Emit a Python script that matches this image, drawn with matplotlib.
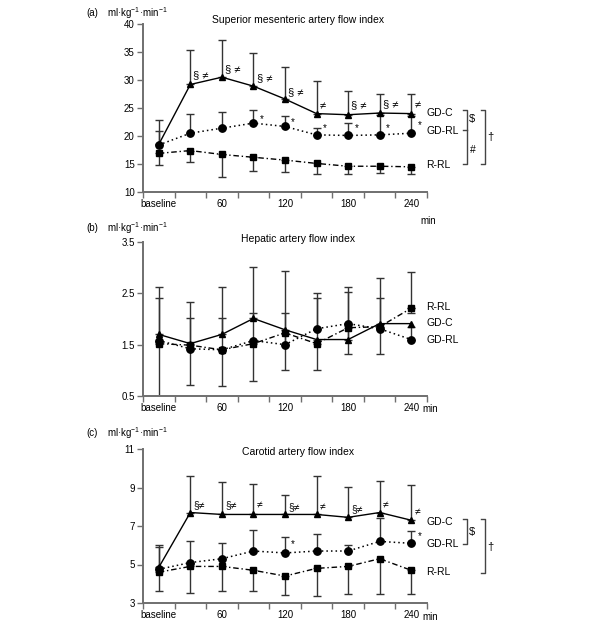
import matplotlib
matplotlib.use("Agg")
import matplotlib.pyplot as plt
import numpy as np

plt.rcParams['font.family'] = ['Liberation Sans', 'DejaVu Sans']
plt.rcParams['font.size'] = 7
plt.rcParams['mathtext.fontset'] = 'custom'
plt.rcParams['mathtext.rm'] = 'Liberation Sans'

# ---------------- data ----------------
time_labels = ["baseline", "30", "60", "90", "120", "150", "180", "210", "240"]
series_names = ["GD-C", "GD-RL", "R-RL"]

# (a) Superior mesenteric artery flow index
a_gdc = [18.5, 29.2, 30.5, 28.9, 26.6, 24.0, 23.8, 24.1, 24.0]
a_gdc_hi = [22.9, 35.4, 37.2, 34.9, 32.4, 29.8, 28.0, 27.5, 27.5]
a_gdrl = [18.4, 20.5, 21.4, 22.3, 21.7, 20.2, 20.1, 20.2, 20.5]
a_gdrl_hi = [20.9, 23.9, 24.2, 24.6, 23.5, 21.5, 22.3, 23.8, 23.6]
a_rrl = [16.9, 17.4, 16.7, 16.2, 15.7, 15.1, 14.6, 14.6, 14.5]
a_rrl_lo = [14.8, 15.3, 12.7, 13.8, 13.6, 13.2, 13.2, 13.45, 13.2]

# (b) Hepatic artery flow index
b_gdc = [1.70, 1.52, 1.70, 2.01, 1.79, 1.60, 1.60, 1.91, 1.91]
b_gdc_hi = [2.62, 2.33, 2.62, 3.01, 2.93, 2.51, 2.62, 2.80, None]
b_gdrl = [1.58, 1.42, 1.40, 1.58, 1.50, 1.81, 1.91, 1.81, 1.60]
b_gdrl_hi = [2.41, 2.01, 2.02, 2.11, 2.11, 2.40, 2.53, 2.41, 1.85]
b_rrl = [1.52, 1.49, 1.40, 1.52, 1.73, 1.52, 1.83, 1.85, 2.21]
b_rrl_lo = [0.30, 0.72, 0.70, 0.79, 1.01, 1.00, 1.31, 1.32, 2.12]
b_rrl_hi = [None, None, None, None, None, None, None, None, 2.91]

# (c) Carotid artery flow index
c_gdc = [4.85, 7.7, 7.6, 7.6, 7.6, 7.6, 7.45, 7.7, 7.3]
c_gdc_hi = [6.0, 9.6, 9.3, 9.2, 8.6, 9.6, 9.05, 9.35, 9.15]
c_gdrl = [4.75, 5.1, 5.3, 5.7, 5.6, 5.7, 5.7, 6.2, 6.1]
c_gdrl_hi = [5.93, 6.2, 6.1, 6.8, 6.45, 6.6, 6.0, 7.43, 6.75]
c_rrl = [4.6, 4.9, 4.9, 4.7, 4.4, 4.8, 4.9, 5.3, 4.7]
c_rrl_lo = [3.6, 3.5, 3.6, 3.6, 3.4, 3.35, 3.45, 3.45, 3.45]

# significance marks: (time index, y, text)
a_marks = [(1, 30.8, "§ ≠"), (2, 32.0, "§ ≠"), (3, 30.3, "§ ≠"), (4, 27.9, "§ ≠"),
           (5, 25.2, "≠"), (6, 25.5, "§ ≠"), (7, 25.6, "§ ≠"), (8, 25.5, "≠")]
a_stars = [(3, 23.0), (4, 22.4), (5, 21.4), (6, 21.4), (7, 21.5), (8, 22.0)]
c_marks = [(1, 8.1, "§≠"), (2, 8.1, "§≠"), (3, 8.1, "≠"), (4, 8.0, "§≠"),
           (5, 8.0, "≠"), (6, 7.9, "§≠"), (7, 8.1, "≠"), (8, 7.75, "≠")]
c_stars = [(4, 6.05), (8, 6.5)]

units = "ml·kg$^{-1}$·min$^{-1}$"

# ---------------- figure ----------------
W, H = 600, 625
fig = plt.figure(figsize=(6, 6.25), dpi=100)

def rect(l, t, r, b):
    return [l / W, 1 - b / H, (r - l) / W, (b - t) / H]

ax_a = fig.add_axes(rect(143, 24, 427, 192))
ax_b = fig.add_axes(rect(143, 242, 427, 396))
ax_c = fig.add_axes(rect(143, 449, 427, 603))

x = np.arange(len(time_labels))
SP = '#6f6f6f'
EC = '#333333'

def style(ax, ylim, yticks, ylabels):
    ax.set_xlim(-0.5, 8.5)
    ax.set_ylim(*ylim)
    for s in ['top', 'right']:
        ax.spines[s].set_visible(False)
    for s in ['left', 'bottom']:
        ax.spines[s].set_color(SP)
        ax.spines[s].set_linewidth(1.4)
    ax.set_yticks(yticks)
    ax.set_yticklabels(ylabels)
    ax.set_xticks(np.arange(-0.5, 9.0, 1.0))
    ax.set_xticklabels([])
    ax.set_xticks([0, 2, 4, 6, 8], minor=True)
    ax.set_xticklabels([time_labels[i] for i in [0, 2, 4, 6, 8]], minor=True)
    ax.tick_params(axis='x', which='major', length=4, width=1, color=SP, direction='out')
    ax.tick_params(axis='x', which='minor', length=0, pad=5, labelsize=7)
    ax.tick_params(axis='y', length=4, width=1, color=SP, direction='out', labelsize=7, pad=2)

def err(ax, y, hi=None, lo=None):
    y = np.array(y, dtype=float)
    if hi is not None:
        h = np.array([np.nan if v is None else v for v in hi], dtype=float)
        m = ~np.isnan(h)
        ax.errorbar(x[m], y[m], yerr=[np.zeros(m.sum()), h[m] - y[m]], fmt='none',
                    ecolor=EC, elinewidth=1.0, capsize=2.6, capthick=1.0, zorder=2)
    if lo is not None:
        l = np.array([np.nan if v is None else v for v in lo], dtype=float)
        m = ~np.isnan(l)
        ax.errorbar(x[m], y[m], yerr=[y[m] - l[m], np.zeros(m.sum())], fmt='none',
                    ecolor=EC, elinewidth=1.0, capsize=2.6, capthick=1.0, zorder=2)

def lines(ax, gdc, gdrl, rrl):
    ax.plot(x, gdc, linestyle='-', color='black', lw=1.0, marker='^', ms=5, zorder=4)
    ax.plot(x, gdrl, linestyle=(0, (1, 2)), color='black', lw=1.1, marker='o', ms=5.3, zorder=4)
    ax.plot(x, rrl, linestyle=(0, (4, 2, 1, 2)), color='black', lw=1.0, marker='s', ms=4.8, zorder=4)

# ---- panel (a)
style(ax_a, (10, 40), [10, 15, 20, 25, 30, 35, 40], ['10', '15', '20', '25', '30', '35', '40'])
err(ax_a, a_gdc, hi=a_gdc_hi)
err(ax_a, a_gdrl, hi=a_gdrl_hi)
err(ax_a, a_rrl, lo=a_rrl_lo)
lines(ax_a, a_gdc, a_gdrl, a_rrl)
for i, yv, t in a_marks:
    ax_a.text(i + 0.1, yv, t, fontsize=8, va='center', ha='left')
for i, yv in a_stars:
    ax_a.text(i + 0.2, yv, "*", fontsize=7, va='center', ha='left')
ax_a.text(8.47, 24.1, "GD-C", fontsize=7.5, va='center', ha='left', clip_on=False)
ax_a.text(8.47, 20.9, "GD-RL", fontsize=7.5, va='center', ha='left', clip_on=False)
ax_a.text(8.47, 14.8, "R-RL", fontsize=7.5, va='center', ha='left', clip_on=False)
# brackets
kw = dict(color='#444444', lw=1.0, clip_on=False)
ax_a.plot([9.63, 9.76, 9.76, 9.63], [24.6, 24.6, 15.0, 15.0], **kw)
ax_a.plot([9.63, 9.76], [21.0, 21.0], **kw)
ax_a.plot([10.2, 10.33, 10.33, 10.2], [24.6, 24.6, 15.0, 15.0], **kw)
ax_a.text(9.83, 23.0, "$", fontsize=8, va='center', ha='left')
ax_a.text(9.85, 17.5, "#", fontsize=7.5, va='center', ha='left')
ax_a.text(10.4, 19.8, "†", fontsize=8, va='center', ha='left')
ax_a.text(8.3, -0.17, "min", fontsize=7, va='center', ha='left', transform=ax_a.get_xaxis_transform())

# ---- panel (b)
style(ax_b, (0.5, 3.5), [0.5, 1.5, 2.5, 3.5], ['0.5', '1.5', '2.5', '3.5'])
err(ax_b, b_gdc, hi=b_gdc_hi)
err(ax_b, b_gdrl, hi=b_gdrl_hi)
err(ax_b, b_rrl, lo=b_rrl_lo, hi=b_rrl_hi)
lines(ax_b, b_gdc, b_gdrl, b_rrl)
ax_b.text(8.47, 2.24, "R-RL", fontsize=7.5, va='center', ha='left', clip_on=False)
ax_b.text(8.47, 1.93, "GD-C", fontsize=7.5, va='center', ha='left', clip_on=False)
ax_b.text(8.47, 1.60, "GD-RL", fontsize=7.5, va='center', ha='left', clip_on=False)
ax_b.text(8.36, -0.087, "min", fontsize=7, va='center', ha='left', transform=ax_b.get_xaxis_transform())

# ---- panel (c)
style(ax_c, (3, 11), [3, 5, 7, 9, 11], ['3', '5', '7', '9', '11'])
err(ax_c, c_gdc, hi=c_gdc_hi)
err(ax_c, c_gdrl, hi=c_gdrl_hi)
err(ax_c, c_rrl, lo=c_rrl_lo)
lines(ax_c, c_gdc, c_gdrl, c_rrl)
for i, yv, t in c_marks:
    ax_c.text(i + 0.1, yv, t, fontsize=7.5, va='center', ha='left')
for i, yv in c_stars:
    ax_c.text(i + 0.2, yv, "*", fontsize=7, va='center', ha='left')
ax_c.text(8.47, 7.19, "GD-C", fontsize=7.5, va='center', ha='left', clip_on=False)
ax_c.text(8.47, 6.07, "GD-RL", fontsize=7.5, va='center', ha='left', clip_on=False)
ax_c.text(8.47, 4.63, "R-RL", fontsize=7.5, va='center', ha='left', clip_on=False)
ax_c.plot([9.63, 9.76, 9.76, 9.63], [7.35, 7.35, 6.07, 6.07], **kw)
ax_c.plot([10.2, 10.33, 10.33, 10.2], [7.35, 7.35, 4.57, 4.57], **kw)
ax_c.text(9.83, 6.7, "$", fontsize=8, va='center', ha='left')
ax_c.text(10.4, 5.92, "†", fontsize=8, va='center', ha='left')
ax_c.text(8.36, -0.093, "min", fontsize=7, va='center', ha='left', transform=ax_c.get_xaxis_transform())

# ---- panel labels, units, titles
def ftext(px, py, s, **k):
    fig.text(px / W, 1 - py / H, s, **k)

for lab, ly, title, ty in [("(a)", 13, "Superior mesenteric artery flow index", 20),
                           ("(b)", 228, "Hepatic artery flow index", 239),
                           ("(c)", 433, "Carotid artery flow index", 452)]:
    ftext(86, ly, lab, fontsize=7, va='center', ha='left')
    ftext(107, ly, units, fontsize=7, va='center', ha='left')
    ftext(298, ty, title, fontsize=7.5, va='center', ha='center')

fig.savefig("out.png", dpi=100, facecolor='white')
